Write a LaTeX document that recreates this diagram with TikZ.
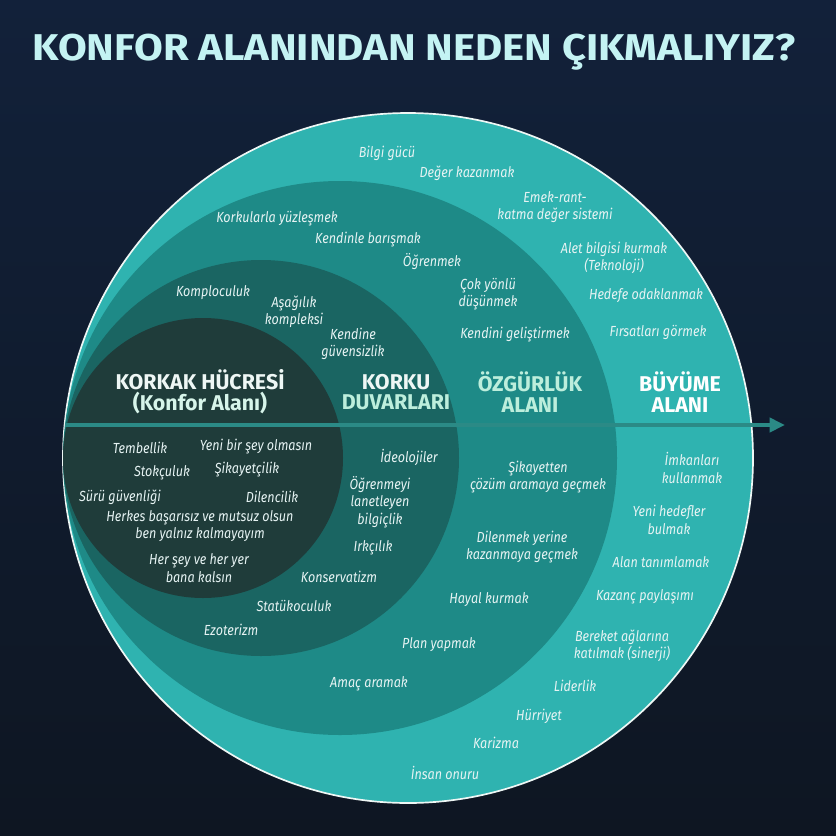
\documentclass[tikz,border=0pt]{standalone}
\usepackage{fontspec}
\usepackage{graphicx}
\newfontfamily\itemfont[FakeStretch=0.86]{Fira Sans}
\newfontfamily\headfont{Fira Sans}
\usetikzlibrary{arrows.meta,positioning}

\definecolor{bgtop}{HTML}{12213A}
\definecolor{bgbottom}{HTML}{0E1622}
\definecolor{titlecyan}{HTML}{C4F3F3}
\definecolor{growth}{HTML}{2FB3B0}
\definecolor{freedom}{HTML}{1E8A87}
\definecolor{walls}{HTML}{1A6562}
\definecolor{cell}{HTML}{1F3C3A}
\definecolor{arrowteal}{HTML}{2B8A86}
\definecolor{itemtext}{HTML}{E6F3F3}
\definecolor{mint}{HTML}{BDEEDC}
\definecolor{paletext}{HTML}{EEF7F5}

\begin{document}
\begin{tikzpicture}[x=0.025cm,y=-0.025cm,
  item/.style={font=\itemfont\itshape\fontsize{10.4}{12.4}\selectfont,text=itemtext,align=center,inner sep=0pt},
  zone/.style={font=\headfont\bfseries\fontsize{15.2}{14.8}\selectfont,align=center,inner sep=0pt}]
  \shade[top color=bgtop,bottom color=bgbottom] (0,0) rectangle (836,836);
  \useasboundingbox (0,0) rectangle (836,836);
  \node[font=\headfont\bfseries\fontsize{26.5}{28}\selectfont,text=titlecyan] (title) at (414,52) {\scalebox{1.12}[1]{KONFOR ALANINDAN NEDEN ÇIKMALIYIZ?}};
  % the four zones, all touching on the left
  \fill[growth] (408,458) circle[radius=345];
  \draw[paletext,line width=1.2pt] (408,458) circle[radius=345];
  \fill[freedom] (340,458) circle[radius=277];
  \fill[walls] (261,458) circle[radius=198];
  \fill[cell] (203,458) circle[radius=140];
  % arrow out of the zones
  \coordinate (start) at (65,425);
  \coordinate (tip) at (785,425);
  \draw[arrowteal,line width=2.8pt,-{Triangle[length=11pt,width=10pt]}] (start) -- (tip);
  % zone titles
  \node[zone,text=paletext] (cellname) at (200,392) {KORKAK HÜCRESİ\\{\color{mint!60!white}(Konfor Alanı)}};
  \node[zone,text=paletext] (wallsname) at (396,392) {KORKU\\{\color{mint}DUVARLARI}};
  \node[zone,text=mint] (freedomname) at (530,392) {ÖZGÜRLÜK\\ALANI};
  \node[zone,text=white] (growthname) at (680,392) {BÜYÜME\\ALANI};
  % growth zone
  \node[item] (g1) at (387,153) {Bilgi gücü};
  \node[item] (g2) at (467,173) {Değer kazanmak};
  \node[item] (g3) at (555,207) {Emek-rant-\\katma değer sistemi};
  \node[item] (g4) at (614,258) {Alet bilgisi kurmak\\(Teknoloji)};
  \node[item] (g5) at (646,296) {Hedefe odaklanmak};
  \node[item] (g6) at (658,332) {Fırsatları görmek};
  \node[item] (g7) at (692,468) {İmkanları\\kullanmak};
  \node[item] (g8) at (669,520) {Yeni hedefler\\bulmak};
  \node[item] (g9) at (661,562) {Alan tanımlamak};
  \node[item] (g10) at (645,597) {Kazanç paylaşımı};
  \node[item] (g11) at (622,646) {Bereket ağlarına\\katılmak (sinerji)};
  \node[item] (g12) at (575,686) {Liderlik};
  \node[item] (g13) at (539,716) {Hürriyet};
  \node[item] (g14) at (496,743) {Karizma};
  \node[item] (g15) at (445,773) {İnsan onuru};
  % freedom zone
  \node[item] (f1) at (277,219) {Korkularla yüzleşmek};
  \node[item] (f2) at (368,240) {Kendinle barışmak};
  \node[item] (f3) at (432,262) {Öğrenmek};
  \node[item] (f4) at (488,294) {Çok yönlü\\düşünmek};
  \node[item] (f5) at (515,335) {Kendini geliştirmek};
  \node[item] (f6) at (538,477) {Şikayetten\\çözüm aramaya geçmek};
  \node[item] (f7) at (522,547) {Dilenmek yerine\\kazanmaya geçmek};
  \node[item] (f8) at (489,600) {Hayal kurmak};
  \node[item] (f9) at (439,645) {Plan yapmak};
  \node[item] (f10) at (369,684) {Amaç aramak};
  % walls zone
  \node[item] (w1) at (213,293) {Komploculuk};
  \node[item] (w2) at (294,312) {Aşağılık\\kompleksi};
  \node[item] (w3) at (353,344) {Kendine\\güvensizlik};
  \node[item] (w4) at (409,457) {İdeolojiler};
  \node[item] (w5) at (380,502) {Öğrenmeyi\\lanetleyen\\bilgiçlik};
  \node[item] (w6) at (373,548) {Irkçılık};
  \node[item] (w7) at (339,577) {Konservatizm};
  \node[item] (w8) at (294,606) {Statükoculuk};
  \node[item] (w9) at (231,630) {Ezoterizm};
  % coward cell
  \node[item] (c1) at (140,448) {Tembellik};
  \node[item] (c2) at (256,447) {Yeni bir şey olmasın};
  \node[item] (c3) at (162,473) {Stokçuluk};
  \node[item] (c4) at (247,470) {Şikayetçilik};
  \node[item] (c5) at (120,497) {Sürü güvenliği};
  \node[item] (c6) at (272,497) {Dilencilik};
  \node[item] (c7) at (200,526) {Herkes başarısız ve mutsuz olsun\\ben yalnız kalmayayım};
  \node[item] (c8) at (199,568) {Her şey ve her yer\\bana kalsın};
\end{tikzpicture}
\end{document}
